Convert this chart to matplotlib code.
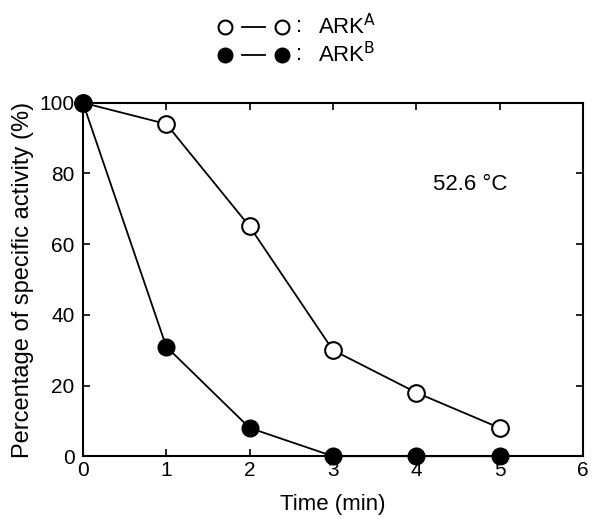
import matplotlib.pyplot as plt
from matplotlib.lines import Line2D

plt.rcParams['font.family'] = ['Liberation Sans', 'DejaVu Sans']

time_min = [0, 1, 2, 3, 4, 5]
ark_a = [100, 94, 65, 30, 18, 8]
ark_b = [100, 31, 8, 0, 0, 0]

fig = plt.figure(figsize=(6.01, 5.19), dpi=100)
ax = fig.add_axes([0.138, 0.121, 0.832, 0.681])

ax.plot(time_min, ark_a, '-o', color='black', lw=1.3, ms=12,
        mfc='white', mec='black', mew=1.5, zorder=3, clip_on=False)
ax.plot(time_min, ark_b, '-o', color='black', lw=1.3, ms=12,
        mfc='black', mec='black', zorder=4, clip_on=False)

ax.set_xlim(0, 6)
ax.set_ylim(0, 100)
ax.set_xticks(range(0, 7))
ax.set_yticks(range(0, 101, 20))
ax.tick_params(direction='in', top=True, right=True, labelsize=15, length=5, width=1.2)
ax.tick_params(axis='y', pad=6)
for s in ax.spines.values():
    s.set_linewidth(1.5)
ax.set_xlabel('Time (min)', fontsize=16, labelpad=10)
ax.set_ylabel('Percentage of specific activity (%)', fontsize=17, labelpad=4)
ax.text(4.65, 77, '52.6 \u00b0C', fontsize=16, ha='center', va='center')

# legend drawn at top of figure
rows = [(1 - 27 / 519, 'white', 'ARK$^{\\mathrm{A}}$'),
        (1 - 55 / 519, 'black', 'ARK$^{\\mathrm{B}}$')]
for y, fc, label in rows:
    for x in (225 / 601, 282 / 601):
        fig.add_artist(Line2D([x], [y], marker='o', ms=10, mfc=fc, mec='black',
                              mew=1.5, transform=fig.transFigure))
    fig.add_artist(Line2D([242 / 601, 265 / 601], [y, y], color='black', lw=1.3,
                          transform=fig.transFigure))
    fig.text(296 / 601, y, ':', fontsize=16, va='center')
    fig.text(318 / 601, y, label, fontsize=16, va='center')

fig.savefig('out.png', dpi=100)
